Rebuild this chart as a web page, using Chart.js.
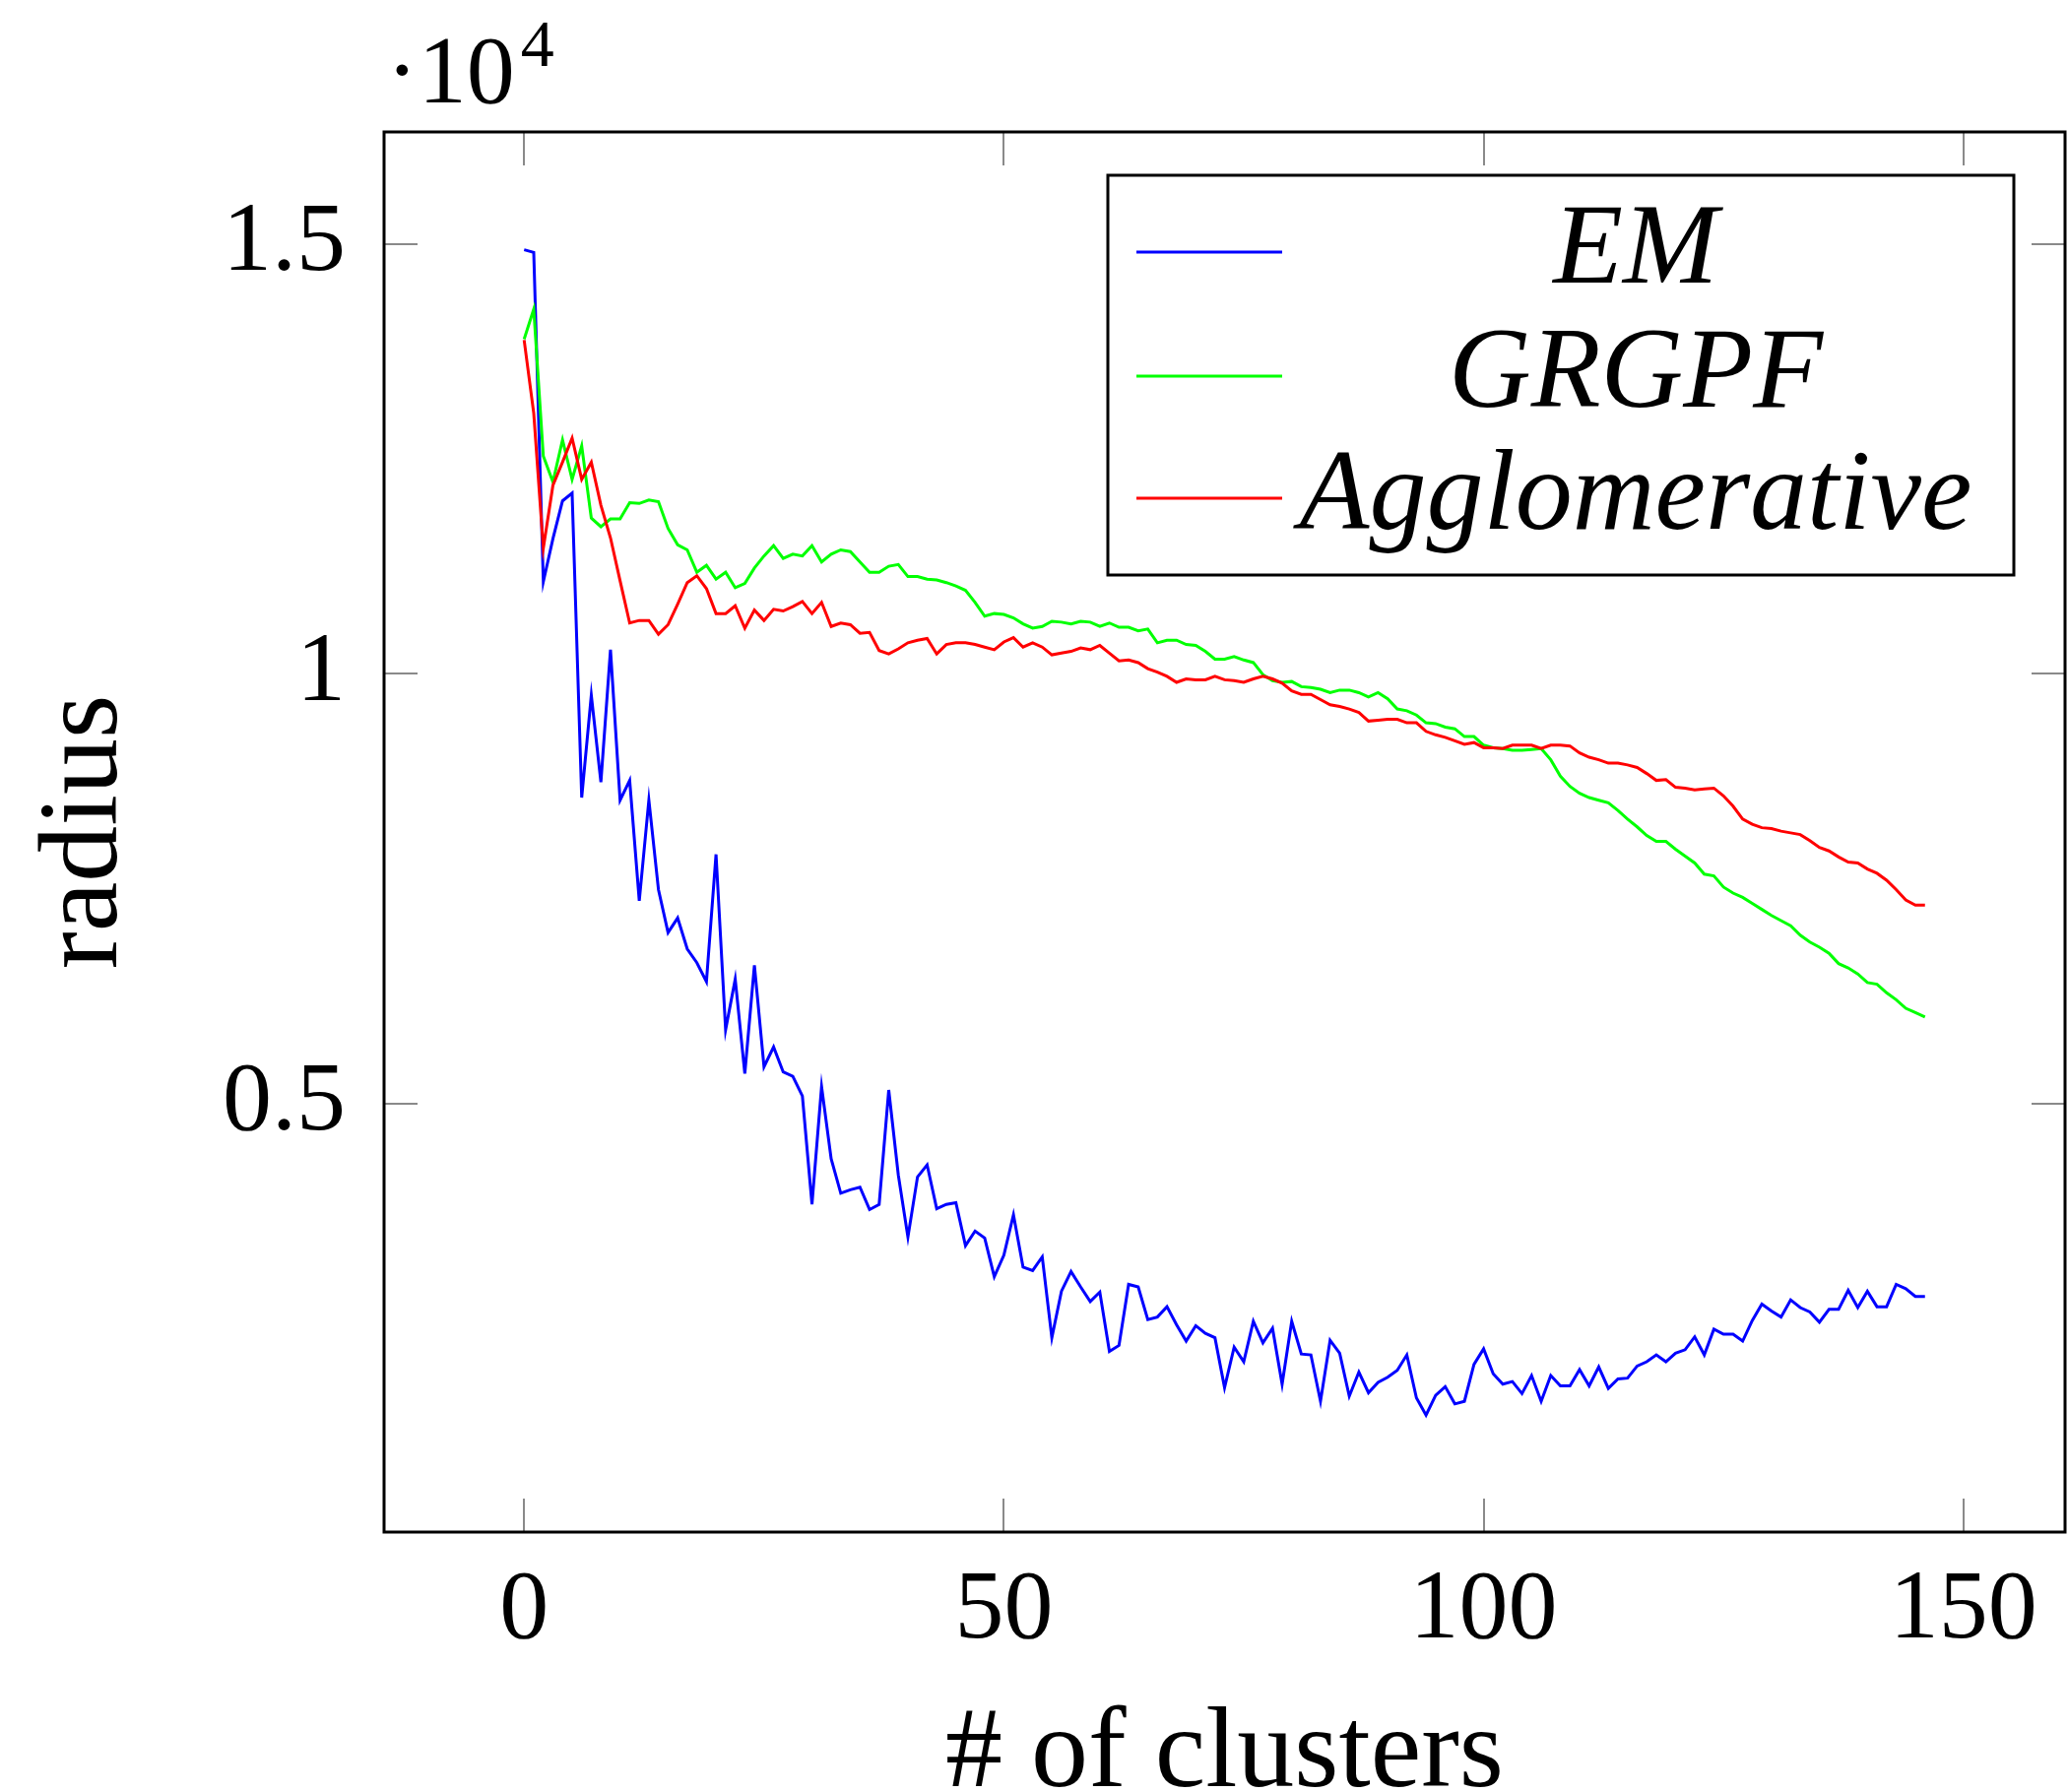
<!DOCTYPE html>
<html>
<head>
<meta charset="utf-8">
<script src="https://cdn.jsdelivr.net/npm/chart.js@4.4.0/dist/chart.umd.min.js"></script>
<style>
  body { margin: 0; background: #fff; }
  #wrap { width: 2100px; height: 1820px; }
</style>
</head>
<body>
<div id="wrap"><canvas id="radiusChart" width="2100" height="1820"></canvas></div>
<script>
// radius values in units of 10^4, one per number of clusters (0..146)
const emRadius = [
  1.493, 1.490, 1.107, 1.157, 1.201, 1.210, 0.856, 0.975, 0.874, 1.028,
  0.853, 0.876, 0.736, 0.853, 0.749, 0.699, 0.716, 0.680, 0.664, 0.642,
  0.790, 0.586, 0.645, 0.535, 0.661, 0.543, 0.566, 0.537, 0.532, 0.509,
  0.383, 0.520, 0.436, 0.396, 0.400, 0.403, 0.377, 0.383, 0.516, 0.417,
  0.345, 0.415, 0.429, 0.378, 0.383, 0.385, 0.335, 0.352, 0.344, 0.299,
  0.324, 0.371, 0.310, 0.306, 0.322, 0.228, 0.282, 0.305, 0.287, 0.270,
  0.281, 0.212, 0.219, 0.290, 0.287, 0.249, 0.252, 0.264, 0.243, 0.224,
  0.242, 0.233, 0.228, 0.170, 0.217, 0.200, 0.247, 0.222, 0.239, 0.174,
  0.247, 0.209, 0.208, 0.154, 0.225, 0.210, 0.160, 0.188, 0.164, 0.176,
  0.182, 0.190, 0.208, 0.158, 0.138, 0.161, 0.171, 0.151, 0.154, 0.197,
  0.215, 0.186, 0.174, 0.177, 0.163, 0.184, 0.154, 0.184, 0.172, 0.172,
  0.191, 0.172, 0.194, 0.169, 0.180, 0.181, 0.195, 0.200, 0.208, 0.200,
  0.210, 0.214, 0.229, 0.208, 0.238, 0.232, 0.232, 0.224, 0.248, 0.267,
  0.259, 0.252, 0.272, 0.263, 0.258, 0.246, 0.261, 0.261, 0.283, 0.263,
  0.282, 0.264, 0.264, 0.290, 0.285, 0.276, 0.276
];
const grgpfRadius = [
  1.389, 1.424, 1.253, 1.223, 1.272, 1.226, 1.265, 1.181, 1.171, 1.180,
  1.180, 1.199, 1.198, 1.202, 1.200, 1.169, 1.150, 1.144, 1.118, 1.126,
  1.110, 1.118, 1.100, 1.105, 1.123, 1.137, 1.149, 1.134, 1.139, 1.137,
  1.149, 1.130, 1.139, 1.144, 1.142, 1.130, 1.118, 1.118, 1.125, 1.127,
  1.113, 1.113, 1.110, 1.109, 1.106, 1.102, 1.097, 1.083, 1.067, 1.070,
  1.069, 1.065, 1.058, 1.053, 1.055, 1.061, 1.060, 1.058, 1.061, 1.060,
  1.055, 1.059, 1.054, 1.054, 1.050, 1.052, 1.036, 1.039, 1.039, 1.034,
  1.033, 1.026, 1.017, 1.017, 1.020, 1.016, 1.013, 0.999, 0.992, 0.990,
  0.991, 0.985, 0.984, 0.982, 0.978, 0.981, 0.981, 0.978, 0.973, 0.978,
  0.971, 0.959, 0.957, 0.952, 0.943, 0.942, 0.938, 0.936, 0.927, 0.927,
  0.917, 0.914, 0.913, 0.911, 0.911, 0.912, 0.913, 0.900, 0.881, 0.869,
  0.861, 0.856, 0.853, 0.850, 0.841, 0.831, 0.822, 0.812, 0.805, 0.805,
  0.796, 0.788, 0.780, 0.767, 0.765, 0.752, 0.745, 0.740, 0.733, 0.726,
  0.719, 0.713, 0.707, 0.696, 0.688, 0.682, 0.675, 0.663, 0.658, 0.651,
  0.641, 0.639, 0.629, 0.621, 0.611, 0.606, 0.601
];
const aggloRadius = [
  1.388, 1.303, 1.146, 1.219, 1.246, 1.274, 1.226, 1.246, 1.196, 1.158,
  1.108, 1.059, 1.062, 1.062, 1.046, 1.057, 1.081, 1.106, 1.114, 1.099,
  1.070, 1.070, 1.079, 1.053, 1.074, 1.062, 1.075, 1.073, 1.078, 1.084,
  1.070, 1.083, 1.055, 1.059, 1.057, 1.047, 1.048, 1.027, 1.023, 1.029,
  1.036, 1.039, 1.041, 1.023, 1.034, 1.036, 1.036, 1.034, 1.031, 1.028,
  1.037, 1.042, 1.031, 1.036, 1.031, 1.022, 1.024, 1.026, 1.030, 1.028,
  1.033, 1.024, 1.015, 1.016, 1.013, 1.006, 1.002, 0.997, 0.990, 0.994,
  0.993, 0.993, 0.997, 0.993, 0.992, 0.990, 0.994, 0.997, 0.994, 0.989,
  0.980, 0.976, 0.976, 0.970, 0.964, 0.962, 0.959, 0.955, 0.945, 0.946,
  0.947, 0.947, 0.943, 0.943, 0.933, 0.929, 0.926, 0.922, 0.918, 0.920,
  0.914, 0.914, 0.913, 0.917, 0.917, 0.917, 0.913, 0.917, 0.917, 0.916,
  0.908, 0.903, 0.900, 0.896, 0.896, 0.894, 0.891, 0.884, 0.876, 0.877,
  0.868, 0.867, 0.865, 0.866, 0.867, 0.858, 0.846, 0.831, 0.825, 0.821,
  0.820, 0.817, 0.815, 0.813, 0.806, 0.798, 0.794, 0.787, 0.781, 0.780,
  0.773, 0.768, 0.760, 0.749, 0.737, 0.731, 0.731
];
const seriesNames = ['EM', 'GRGPF', 'Agglomerative'];
const seriesColors = ['#0000ff', '#00ff00', '#ff0000'];
const xTicks = [0, 50, 100, 150];
const yTicks = [0.5, 1, 1.5];
const yTickLabels = ['0.5', '1', '1.5'];

const serif = "'Liberation Serif', 'Times New Roman', serif";

function toPoints(arr) {
  return arr.map(function (v, i) { return { x: i, y: v }; });
}

// frame, inward ticks, legend box and the 10^4 multiplier
const framePlugin = {
  id: 'frame',
  afterDatasetsDraw(chart) {
    const ctx = chart.ctx;
    const a = chart.chartArea;
    const sx = chart.scales.x, sy = chart.scales.y;
    const len = 34;
    ctx.save();
    ctx.strokeStyle = '#8a8a8a';
    ctx.lineWidth = 2;
    xTicks.forEach(function (v) {
      const px = Math.round(sx.getPixelForValue(v));
      ctx.beginPath();
      ctx.moveTo(px, a.bottom); ctx.lineTo(px, a.bottom - len);
      ctx.moveTo(px, a.top); ctx.lineTo(px, a.top + len);
      ctx.stroke();
    });
    yTicks.forEach(function (v) {
      const py = Math.round(sy.getPixelForValue(v));
      ctx.beginPath();
      ctx.moveTo(a.left, py); ctx.lineTo(a.left + len, py);
      ctx.moveTo(a.right, py); ctx.lineTo(a.right - len, py);
      ctx.stroke();
    });

    ctx.strokeStyle = '#000';
    ctx.lineWidth = 3;
    ctx.strokeRect(a.left, a.top, a.right - a.left, a.bottom - a.top);

    // legend
    const lx = a.right - 52 - 920, ly = a.top + 44;
    ctx.fillStyle = '#fff';
    ctx.fillRect(lx, ly, 920, 406);
    ctx.strokeRect(lx, ly, 920, 406);
    const rows = [ly + 78, ly + 204, ly + 328];
    ctx.font = 'italic 116px ' + serif;
    ctx.textAlign = 'center';
    ctx.textBaseline = 'alphabetic';
    chart.data.datasets.forEach(function (ds, i) {
      ctx.strokeStyle = ds.borderColor;
      ctx.lineWidth = 3;
      ctx.beginPath();
      ctx.moveTo(lx + 29, rows[i]);
      ctx.lineTo(lx + 177, rows[i]);
      ctx.stroke();
      ctx.fillStyle = '#000';
      ctx.fillText(ds.label, lx + 536, rows[i] + 31);
    });

    // multiplier above the y axis
    ctx.textAlign = 'left';
    ctx.fillStyle = '#000';
    ctx.font = '98px ' + serif;
    const base = '\u00b710';
    ctx.fillText(base, a.left + 2, 104);
    const w = ctx.measureText(base).width;
    ctx.font = '68px ' + serif;
    ctx.fillText('4', a.left + 2 + w + 6, 67);
    ctx.restore();
  }
};

const ctx = document.getElementById('radiusChart').getContext('2d');
const radiusChart = new Chart(ctx, {
  type: 'line',
  data: {
    datasets: [
      { label: seriesNames[0], data: toPoints(emRadius), borderColor: seriesColors[0], order: 3 },
      { label: seriesNames[1], data: toPoints(grgpfRadius), borderColor: seriesColors[1], order: 2 },
      { label: seriesNames[2], data: toPoints(aggloRadius), borderColor: seriesColors[2], order: 1 }
    ]
  },
  options: {
    responsive: false,
    devicePixelRatio: 1,
    animation: false,
    datasets: {
      line: { borderWidth: 3, pointRadius: 0, tension: 0, fill: false }
    },
    layout: { padding: { top: 134, right: 3, left: 0, bottom: 0 } },
    plugins: {
      legend: { display: false },
      tooltip: { enabled: false }
    },
    scales: {
      x: {
        type: 'linear',
        min: -14.6,
        max: 160.6,
        afterBuildTicks: function (s) { s.ticks = xTicks.map(function (v) { return { value: v }; }); },
        afterFit: function (s) { s.height = 264; },
        grid: { display: false, drawTicks: false },
        border: { display: false },
        ticks: {
          color: '#000',
          font: { family: serif, size: 100 },
          padding: 21,
          maxRotation: 0,
          autoSkip: false,
          callback: function (v) { return String(v); }
        },
        title: {
          display: true,
          text: '# of clusters',
          color: '#000',
          font: { family: serif, size: 116, lineHeight: 0.63 },
          padding: { top: 0, bottom: 0 }
        }
      },
      y: {
        type: 'linear',
        min: 0.002,
        max: 1.630,
        afterBuildTicks: function (s) { s.ticks = yTicks.map(function (v) { return { value: v }; }); },
        afterFit: function (s) { s.width = 390; },
        grid: { display: false, drawTicks: false },
        border: { display: false },
        ticks: {
          color: '#000',
          font: { family: serif, size: 100 },
          padding: 39,
          autoSkip: false,
          callback: function (v) { return yTickLabels[yTicks.indexOf(v)]; }
        },
        title: {
          display: true,
          text: 'radius',
          color: '#000',
          font: { family: serif, size: 114, lineHeight: 1 },
          padding: { top: 31, bottom: 0 }
        }
      }
    }
  },
  plugins: [framePlugin]
});
</script>
</body>
</html>
